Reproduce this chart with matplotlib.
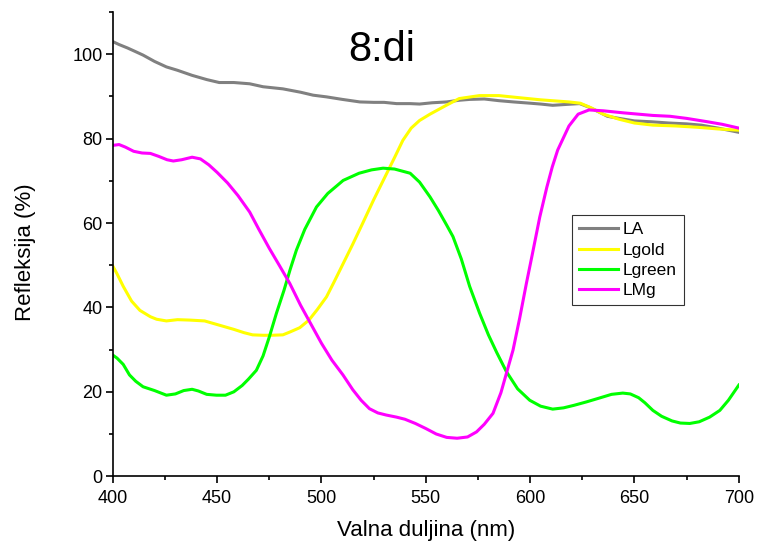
import numpy as np
import matplotlib
matplotlib.use("Agg")
from matplotlib import pyplot as plt
from matplotlib.ticker import MultipleLocator

plt.rcParams['font.family'] = ['Liberation Sans', 'DejaVu Sans']

# wavelengths (nm) and reflectance (%)
wl_la = [400, 403, 407, 411, 414.5, 420, 425.7, 431, 438, 445, 451, 458, 465.6, 472, 481.5,
         490, 496, 502.4, 510, 518.4, 525, 530, 536, 542.5, 547, 553, 560, 566, 571, 578,
         585, 592, 600, 605, 610.8, 617, 623.7, 628, 633, 637, 642.6, 650, 658, 666.6,
         675, 682, 690, 695, 700]
la = [103, 102.3, 101.5, 100.6, 99.8, 98.3, 97, 96.2, 95, 94, 93.3, 93.3, 93, 92.3, 91.8,
      91, 90.3, 89.9, 89.3, 88.7, 88.6, 88.6, 88.3, 88.3, 88.2, 88.5, 88.7, 89.1, 89.3, 89.4,
      89.0, 88.7, 88.4, 88.2, 87.9, 88.1, 88.3, 87.5, 86.3, 85.3, 84.8, 84.2, 84.0, 83.7,
      83.5, 83.2, 82.5, 82.0, 81.5]

wl_gold = [400, 402, 405, 409, 413, 418, 421, 425.7, 431, 436.9, 444, 451, 458, 463, 467,
           472, 476, 481.5, 485, 489.6, 494, 498, 502.4, 506, 510, 515, 519.8, 525, 530,
           535, 539, 543, 547, 552, 559.8, 566, 575.7, 585, 594.9, 605, 618.6, 624, 629.7,
           635, 642.6, 650, 658.8, 670, 680, 690, 700]
gold = [49.8, 48, 45, 41.5, 39.3, 37.8, 37.2, 36.8, 37.1, 37, 36.8, 35.8, 34.8, 34, 33.5,
        33.4, 33.4, 33.5, 34.2, 35.2, 37, 39.5, 42.5, 46, 50, 55, 60, 65.5, 70.5,
        75.5, 79.6, 82.5, 84.3, 85.8, 87.9, 89.5, 90.2, 90.2, 89.7, 89.2, 88.7, 88.4, 87.2,
        85.8, 84.6, 83.7, 83.2, 83.0, 82.7, 82.3, 82]

wl_green = [400, 402, 405, 408, 411, 414.5, 420, 425.7, 430, 434, 438, 441, 445, 449.7, 454,
            458, 462, 465, 468.8, 472, 475, 478.4, 482, 485, 488, 492, 497.6, 503, 510.4,
            518, 524, 529.5, 535, 538, 542.5, 547, 552, 556, 560, 563, 567, 571, 575.8,
            580, 584, 588.6, 594, 599.8, 605, 610.8, 616, 621, 626.9, 633, 639, 644.4,
            648, 652, 655, 658.8, 663, 668, 672, 676.5, 681, 686, 690.9, 695, 700]
green = [28.7, 28, 26.5, 24, 22.5, 21.2, 20.3, 19.2, 19.5, 20.3, 20.6, 20.2, 19.4, 19.2, 19.2,
         20, 21.5, 23, 25.1, 28.5, 33, 38.6, 44, 49, 53.6, 58.5, 63.8, 67, 70.1,
         71.8, 72.6, 73, 72.8, 72.4, 71.8, 69.7, 66.2, 63, 59.5, 56.8, 51.5, 45, 38.6,
         33.5, 29.3, 24.8, 20.7, 18, 16.6, 15.9, 16.2, 16.8, 17.6, 18.5, 19.4, 19.7,
         19.5, 18.6, 17.4, 15.6, 14.2, 13.1, 12.6, 12.5, 12.9, 14, 15.6, 18, 21.6]

wl_mg = [400, 403, 406, 410, 414, 418, 422, 426, 429, 433, 438, 442, 446, 450, 455, 460,
         465.6, 470, 475, 480, 484.8, 490, 495, 500, 505, 510.3, 515, 519, 523, 527, 531,
         536, 540, 545, 550, 555, 560, 565, 570, 574.3, 578, 582.2, 586, 591.8, 595,
         598.2, 601, 604.6, 608, 610.6, 613.2, 618.6, 623, 628.2, 635, 645, 658.8, 667,
         675, 685, 692, 700]
mg = [78.4, 78.6, 78, 77, 76.6, 76.5, 75.8, 75, 74.7, 75, 75.6, 75.2, 73.8, 72, 69.5, 66.5,
      62.6, 58.5, 54, 49.8, 45.7, 40.5, 36, 31.5, 27.5, 24, 20.5, 18, 16, 15, 14.5,
      14, 13.5, 12.5, 11.3, 10, 9.2, 9.0, 9.3, 10.5, 12.3, 14.9, 19.8, 29.9, 37.5,
      45.7, 52.5, 61.4, 68.5, 73.3, 77.3, 83, 85.8, 86.8, 86.6, 86.1, 85.5, 85.3,
      84.8, 84, 83.4, 82.5]

fig = plt.figure(figsize=(7.57, 5.48), dpi=100)
ax = fig.add_axes([0.149, 0.131, 0.827, 0.847])

ax.plot(wl_la, la, color='#808080', lw=2.2, label='LA')
ax.plot(wl_gold, gold, color='#ffff00', lw=2.2, label='Lgold')
ax.plot(wl_green, green, color='#00ff00', lw=2.2, label='Lgreen')
ax.plot(wl_mg, mg, color='#ff00ff', lw=2.2, label='LMg')

ax.set_xlim(400, 700)
ax.set_ylim(0, 110)
ax.xaxis.set_major_locator(MultipleLocator(50))
ax.xaxis.set_minor_locator(MultipleLocator(25))
ax.yaxis.set_major_locator(MultipleLocator(20))
ax.yaxis.set_minor_locator(MultipleLocator(10))
ax.tick_params(which='major', direction='out', length=5, width=1.2, labelsize=13)
ax.tick_params(axis='x', which='major', pad=5)
ax.tick_params(axis='y', which='major', pad=2.5)
ax.tick_params(which='minor', direction='out', length=3, width=1.2)
for s in ['top', 'right']:
    ax.spines[s].set_visible(False)
for s in ['left', 'bottom']:
    ax.spines[s].set_linewidth(1.2)

ax.set_xlabel('Valna duljina (nm)', fontsize=16)
ax.set_ylabel('Refleksija (%)', fontsize=16)
ax.xaxis.set_label_coords(0.5, -0.095)
ax.yaxis.set_label_coords(-0.123, 0.482)
ax.text(0.43, 0.895, '8:di', transform=ax.transAxes, fontsize=30, ha='center', va='baseline')

leg = ax.legend(loc='upper left', bbox_to_anchor=(0.733, 0.5625), fontsize=12.5,
                frameon=True, fancybox=False, edgecolor='black', handlelength=2.25,
                borderpad=0.4, labelspacing=0.3, handletextpad=0.3, borderaxespad=0)
leg.get_frame().set_linewidth(0.8)

fig.savefig('out.png', dpi=100)
